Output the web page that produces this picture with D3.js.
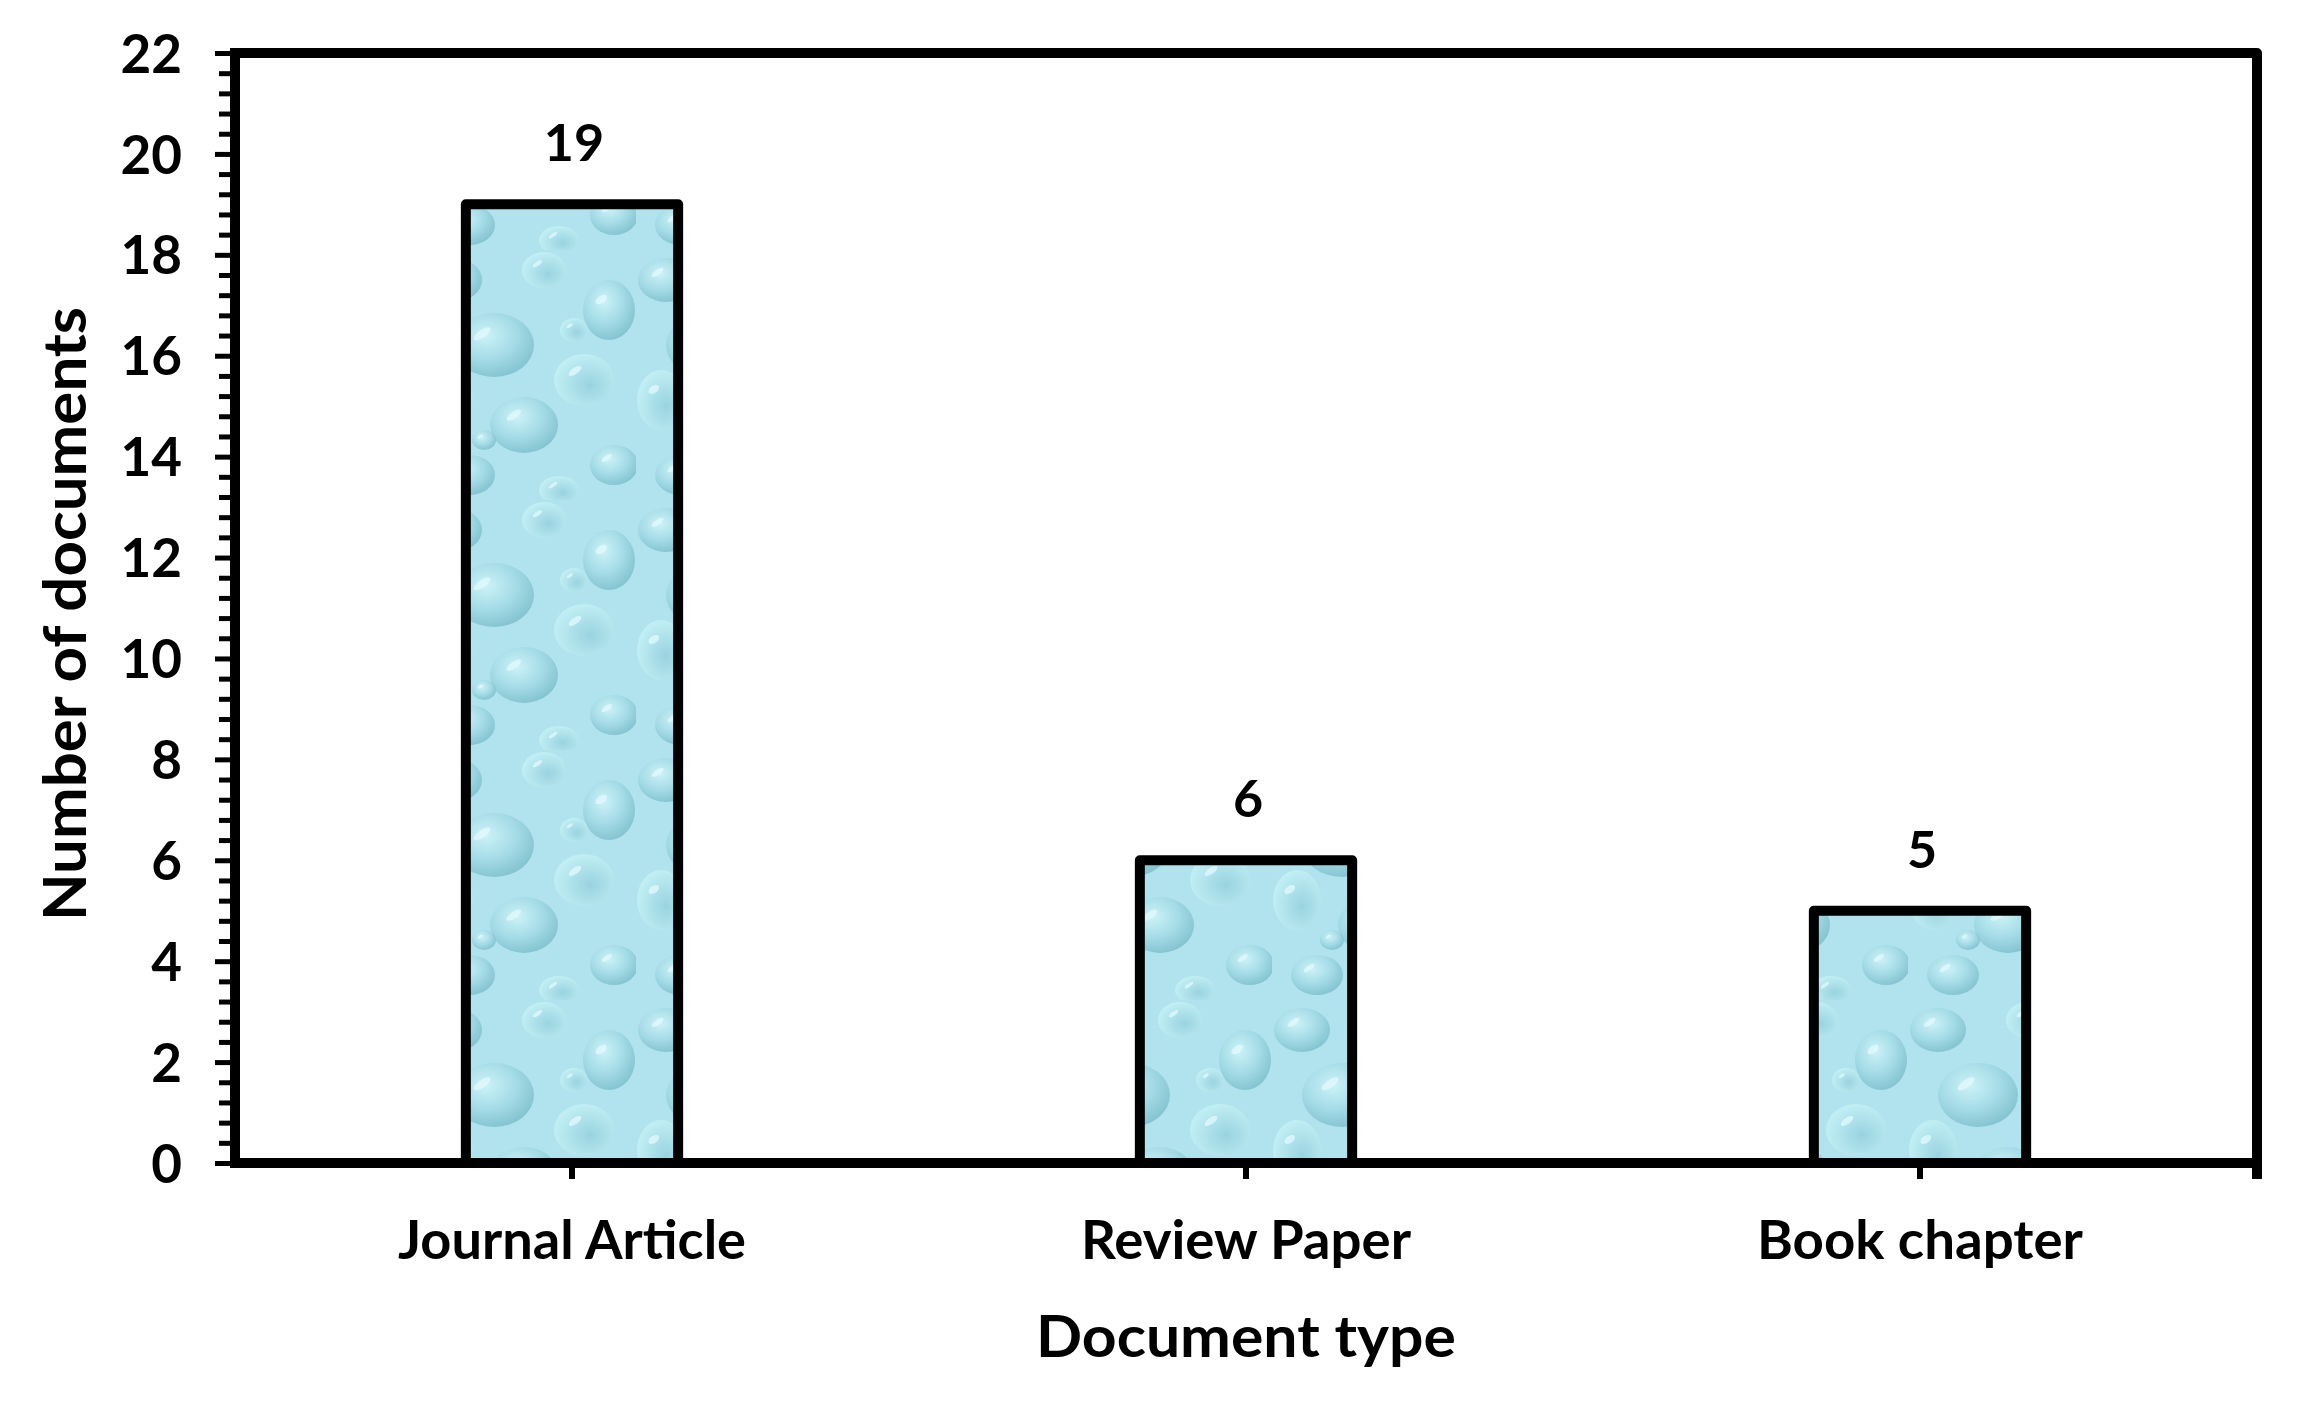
<!DOCTYPE html>
<html>
<head>
<meta charset="utf-8">
<script src="https://cdn.jsdelivr.net/npm/d3@7"></script>
<style>
  html, body { margin: 0; padding: 0; background: #fff; }
  svg { display: block; }
  text { font-family: Lato, "Open Sans", sans-serif; font-weight: 700; fill: #000; }
</style>
</head>
<body>
<svg id="chart" width="2299" height="1404"></svg>
<script>
// ---- data ----
const categories = ["Journal Article", "Review Paper", "Book chapter"];
const documentCounts = [19, 6, 5];
const yTickValues = [0, 2, 4, 6, 8, 10, 12, 14, 16, 18, 20, 22];
const xAxisTitle = "Document type";
const yAxisTitle = "Number of documents";

// ---- layout ----
const W = 2299, H = 1404;
const plot = { left: 235, right: 2257, top: 53, bottom: 1163 };
const xLabelLengths = { "Journal Article": 348, "Review Paper": 330, "Book chapter": 326 };

const svg = d3.select("#chart");

// water-drop texture pattern
const defs = svg.append("defs");
const rg = defs.append("radialGradient").attr("id", "drop").attr("cx", "40%").attr("cy", "35%").attr("r", "65%");
rg.append("stop").attr("offset", "0%").attr("stop-color", "#d3f6fa");
rg.append("stop").attr("offset", "55%").attr("stop-color", "#a4dbe6");
rg.append("stop").attr("offset", "100%").attr("stop-color", "#7bbecb");
const rg2 = defs.append("radialGradient").attr("id", "drop2").attr("cx", "60%").attr("cy", "60%").attr("r", "60%");
rg2.append("stop").attr("offset", "0%").attr("stop-color", "#94cfdc");
rg2.append("stop").attr("offset", "100%").attr("stop-color", "#c4f1f6");

const pat = defs.append("pattern").attr("id", "water")
  .attr("patternUnits", "userSpaceOnUse").attr("width", 212).attr("height", 250)
  .attr("x", 0).attr("y", 0);
pat.append("rect").attr("width", 212).attr("height", 250).attr("fill", "#b0e3ed");
const drops = [
  [30, 30, 28, 22, "drop"], [120, 20, 22, 18, "drop2"], [185, 60, 26, 30, "drop"],
  [70, 95, 40, 32, "drop"], [160, 130, 30, 26, "drop2"], [25, 150, 24, 30, "drop2"],
  [100, 175, 34, 28, "drop"], [190, 215, 24, 20, "drop"], [45, 225, 26, 20, "drop"],
  [135, 240, 20, 14, "drop2"], [150, 80, 14, 12, "drop2"], [60, 190, 12, 10, "drop"]
];
drops.forEach(d => {
  pat.append("ellipse").attr("cx", d[0]).attr("cy", d[1]).attr("rx", d[2]).attr("ry", d[3])
    .attr("fill", `url(#${d[4]})`).attr("opacity", 0.8);
  pat.append("ellipse").attr("cx", d[0] - d[2] * 0.3).attr("cy", d[1] - d[3] * 0.35)
    .attr("rx", d[2] * 0.25).attr("ry", d[3] * 0.12)
    .attr("transform", `rotate(-35 ${d[0] - d[2] * 0.3} ${d[1] - d[3] * 0.35})`)
    .attr("fill", "#e6fcff").attr("opacity", 0.7);
});

// ---- scales ----
const x = d3.scaleBand().domain(categories).range([plot.left, plot.right])
  .paddingInner(0.685).paddingOuter(0.3425);
const xc = d3.scaleBand().domain(categories).range([plot.left, plot.right]).padding(0);
const y = d3.scaleLinear().domain([0, 22]).range([plot.bottom, plot.top]);

// ---- bars ----
svg.append("g").selectAll("rect").data(documentCounts).join("rect")
  .attr("x", (d, i) => x(categories[i]))
  .attr("y", d => y(d))
  .attr("width", x.bandwidth())
  .attr("height", d => y(0) - y(d))
  .attr("fill", "url(#water)")
  .attr("stroke", "#000").attr("stroke-width", 10).attr("stroke-linejoin", "round");

// value labels
svg.append("g").selectAll("text").data(documentCounts).join("text")
  .attr("x", (d, i) => x(categories[i]) + x.bandwidth() / 2 + 2)
  .attr("y", d => y(d) - 43)
  .attr("text-anchor", "middle")
  .attr("font-size", 52)
  .text(d => d);

// ---- frame (top & right) ----
svg.append("path")
  .attr("d", `M${plot.left},${plot.top}H${plot.right}V${plot.bottom}`)
  .attr("fill", "none").attr("stroke", "#000").attr("stroke-width", 10).attr("stroke-linejoin", "round");

// ---- y axis ----
const minorTicks = d3.range(0, 22.0001, 0.4).filter(v => Math.abs(v / 2 - Math.round(v / 2)) > 1e-6);
const yMinor = svg.append("g").attr("transform", `translate(${plot.left},0)`)
  .call(d3.axisLeft(y).tickValues(minorTicks).tickSize(16).tickFormat(""));
yMinor.select(".domain").remove();
yMinor.selectAll(".tick line").attr("stroke", "#000").attr("stroke-width", 5);

const yAxis = svg.append("g").attr("transform", `translate(${plot.left},0)`)
  .call(d3.axisLeft(y).tickValues(yTickValues).tickSize(20).tickPadding(33).tickSizeOuter(0));
yAxis.select(".domain").attr("stroke", "#000").attr("stroke-width", 10)
  .attr("d", `M0,${plot.top - 5}V${plot.bottom + 5}`);
yAxis.selectAll(".tick line").attr("stroke", "#000").attr("stroke-width", 5);
yAxis.selectAll(".tick text").attr("font-size", 53).attr("dy", "0.36em")
  .attr("font-family", "Lato, sans-serif").attr("font-weight", 700).attr("fill", "#000");

// ---- x axis ----
const xAxis = svg.append("g").attr("transform", `translate(0,${plot.bottom})`)
  .call(d3.axisBottom(xc).tickSize(16).tickPadding(42).tickSizeOuter(16));
xAxis.select(".domain").attr("stroke", "#000").attr("stroke-width", 10)
  .attr("d", `M${plot.left - 5},0H${plot.right}V16`);
xAxis.selectAll(".tick line").attr("stroke", "#000").attr("stroke-width", 6);
xAxis.selectAll(".tick text").attr("font-size", 53).attr("dy", "0.71em")
  .attr("font-family", "Lato, sans-serif").attr("font-weight", 700).attr("fill", "#000")
  .attr("textLength", d => xLabelLengths[d]).attr("lengthAdjust", "spacingAndGlyphs");

// ---- axis titles ----
svg.append("text")
  .attr("x", (plot.left + plot.right) / 2)
  .attr("y", 1357)
  .attr("text-anchor", "middle")
  .attr("font-size", 57)
  .attr("textLength", 420).attr("lengthAdjust", "spacingAndGlyphs")
  .text(xAxisTitle);

svg.append("text")
  .attr("transform", `translate(86,${(plot.top + plot.bottom) / 2 + 6}) rotate(-90)`)
  .attr("text-anchor", "middle")
  .attr("font-size", 59)
  .attr("textLength", 614).attr("lengthAdjust", "spacingAndGlyphs")
  .text(yAxisTitle);
</script>
</body>
</html>
